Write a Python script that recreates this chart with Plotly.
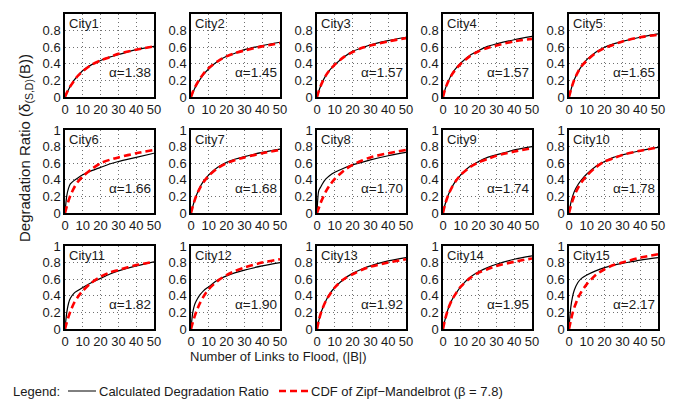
import plotly.graph_objects as go

links = [0, 1, 2, 3, 5, 7, 10, 15, 20, 25, 30, 40, 50]
cities = [f"City{i}" for i in range(1, 16)]
alphas = ["1.38", "1.45", "1.57", "1.57", "1.65", "1.66", "1.68", "1.70",
          "1.74", "1.78", "1.82", "1.90", "1.92", "1.95", "2.17"]

calc_city1 = [0, 0.05, 0.09, 0.13, 0.20, 0.25, 0.32, 0.39, 0.44, 0.48, 0.51, 0.57, 0.61]
calc_city2 = [0, 0.05, 0.10, 0.14, 0.21, 0.27, 0.34, 0.43, 0.49, 0.53, 0.57, 0.62, 0.66]
calc_city3 = [0, 0.07, 0.13, 0.18, 0.26, 0.32, 0.39, 0.48, 0.55, 0.59, 0.63, 0.68, 0.72]
calc_city4 = [0, 0.08, 0.14, 0.19, 0.28, 0.34, 0.41, 0.50, 0.56, 0.61, 0.64, 0.69, 0.73]
calc_city5 = [0, 0.08, 0.15, 0.21, 0.30, 0.37, 0.45, 0.54, 0.60, 0.64, 0.67, 0.72, 0.76]
calc_city6 = [0, 0.21, 0.30, 0.35, 0.39, 0.42, 0.46, 0.51, 0.55, 0.59, 0.62, 0.67, 0.72]
calc_city7 = [0, 0.08, 0.15, 0.21, 0.31, 0.38, 0.46, 0.55, 0.61, 0.65, 0.68, 0.73, 0.77]
calc_city8 = [0, 0.27, 0.31, 0.35, 0.41, 0.45, 0.49, 0.54, 0.58, 0.61, 0.64, 0.69, 0.73]
calc_city9 = [0, 0.09, 0.16, 0.22, 0.31, 0.38, 0.46, 0.56, 0.62, 0.67, 0.70, 0.76, 0.80]
calc_city10 = [0, 0.12, 0.20, 0.26, 0.34, 0.40, 0.47, 0.56, 0.62, 0.67, 0.70, 0.75, 0.79]
calc_city11 = [0, 0.20, 0.31, 0.37, 0.43, 0.46, 0.50, 0.56, 0.61, 0.66, 0.70, 0.76, 0.81]
calc_city12 = [0, 0.20, 0.29, 0.34, 0.41, 0.46, 0.51, 0.59, 0.64, 0.68, 0.71, 0.76, 0.80]
calc_city13 = [0, 0.10, 0.18, 0.24, 0.34, 0.42, 0.50, 0.60, 0.67, 0.72, 0.76, 0.82, 0.86]
calc_city14 = [0, 0.10, 0.18, 0.25, 0.35, 0.42, 0.51, 0.62, 0.69, 0.74, 0.78, 0.84, 0.88]
calc_city15 = [0, 0.26, 0.39, 0.47, 0.56, 0.61, 0.65, 0.70, 0.74, 0.77, 0.79, 0.83, 0.86]

zipf_city1 = [0, 0.05, 0.09, 0.13, 0.19, 0.25, 0.31, 0.39, 0.44, 0.48, 0.52, 0.57, 0.61]
zipf_city2 = [0, 0.06, 0.11, 0.15, 0.22, 0.28, 0.35, 0.43, 0.49, 0.53, 0.56, 0.61, 0.65]
zipf_city3 = [0, 0.07, 0.13, 0.18, 0.26, 0.32, 0.39, 0.48, 0.54, 0.59, 0.62, 0.67, 0.71]
zipf_city4 = [0, 0.08, 0.14, 0.19, 0.27, 0.33, 0.40, 0.49, 0.55, 0.59, 0.62, 0.67, 0.70]
zipf_city5 = [0, 0.08, 0.15, 0.21, 0.30, 0.37, 0.44, 0.53, 0.59, 0.63, 0.67, 0.72, 0.75]
zipf_city6 = [0, 0.08, 0.15, 0.21, 0.30, 0.37, 0.44, 0.53, 0.60, 0.64, 0.67, 0.72, 0.76]
zipf_city7 = [0, 0.08, 0.15, 0.21, 0.30, 0.37, 0.45, 0.54, 0.60, 0.64, 0.67, 0.72, 0.76]
zipf_city8 = [0, 0.06, 0.12, 0.17, 0.26, 0.33, 0.41, 0.51, 0.58, 0.63, 0.67, 0.72, 0.76]
zipf_city9 = [0, 0.09, 0.16, 0.22, 0.31, 0.38, 0.46, 0.55, 0.61, 0.65, 0.69, 0.74, 0.78]
zipf_city10 = [0, 0.08, 0.15, 0.21, 0.30, 0.37, 0.45, 0.55, 0.62, 0.66, 0.70, 0.75, 0.79]
zipf_city11 = [0, 0.08, 0.15, 0.21, 0.31, 0.38, 0.46, 0.56, 0.63, 0.68, 0.71, 0.77, 0.81]
zipf_city12 = [0, 0.08, 0.15, 0.21, 0.31, 0.39, 0.48, 0.58, 0.65, 0.70, 0.74, 0.80, 0.84]
zipf_city13 = [0, 0.10, 0.18, 0.24, 0.34, 0.41, 0.50, 0.60, 0.66, 0.71, 0.75, 0.80, 0.84]
zipf_city14 = [0, 0.10, 0.18, 0.25, 0.35, 0.42, 0.51, 0.61, 0.68, 0.72, 0.76, 0.81, 0.85]
zipf_city15 = [0, 0.10, 0.19, 0.26, 0.37, 0.45, 0.54, 0.65, 0.72, 0.77, 0.80, 0.86, 0.90]

calc = [calc_city1, calc_city2, calc_city3, calc_city4, calc_city5, calc_city6,
        calc_city7, calc_city8, calc_city9, calc_city10, calc_city11, calc_city12,
        calc_city13, calc_city14, calc_city15]
zipf = [zipf_city1, zipf_city2, zipf_city3, zipf_city4, zipf_city5, zipf_city6,
        zipf_city7, zipf_city8, zipf_city9, zipf_city10, zipf_city11, zipf_city12,
        zipf_city13, zipf_city14, zipf_city15]

x_ticks = [0, 10, 20, 30, 40, 50]
y_ticks = [0, 0.2, 0.4, 0.6, 0.8, 1]

# the page body adds an 8px margin; lay out in window pixels and compensate
OFF = 8
W, H = 679 - OFF, 405 - OFF
FONT = "Liberation Sans, Arial, sans-serif"
TXT = "#1a1a1a"


def px(x):
    return (x - OFF) / W


def py(y):
    return 1 - (y - OFF) / H


fig = go.Figure()

col_left = [65, 191, 317, 443, 569]
pw = 89
row_top = [14, 130, 246]
ph = 83

layout = {}
annotations = []
for i in range(15):
    r, c = divmod(i, 5)
    n = i + 1
    xa = "x" if n == 1 else f"x{n}"
    ya = "y" if n == 1 else f"y{n}"
    fig.add_trace(go.Scatter(x=links, y=calc[i], mode="lines", xaxis=xa, yaxis=ya,
                             line=dict(color="black", width=1.2, shape="spline", smoothing=0.8),
                             showlegend=False, hoverinfo="skip"))
    fig.add_trace(go.Scatter(x=links, y=zipf[i], mode="lines", xaxis=xa, yaxis=ya,
                             line=dict(color="#ff0000", width=2.6, dash="7px,4px",
                                       shape="spline", smoothing=0.8),
                             showlegend=False, hoverinfo="skip"))
    common = dict(showline=True, linecolor="black", linewidth=1.5, mirror=True,
                  showgrid=True, gridcolor="#707070", griddash="1px,3px", gridwidth=1,
                  zeroline=False, ticks="", automargin=False,
                  tickfont=dict(size=13, color=TXT, family=FONT))
    layout["xaxis" if n == 1 else f"xaxis{n}"] = dict(
        domain=[px(col_left[c]), px(col_left[c] + pw)], range=[0, 50],
        tickvals=x_ticks, anchor=ya, **common)
    layout["yaxis" if n == 1 else f"yaxis{n}"] = dict(
        domain=[py(row_top[r] + ph), py(row_top[r])], range=[0, 1],
        tickvals=y_ticks, anchor=xa, **common)
    annotations.append(dict(text=cities[i], xref=f"{xa} domain", yref=f"{ya} domain",
                            x=0.02, y=1.0, xanchor="left", yanchor="top", showarrow=False,
                            font=dict(size=13, color=TXT, family=FONT)))
    annotations.append(dict(text=f"α={alphas[i]}", xref=f"{xa} domain", yref=f"{ya} domain",
                            x=0.99, y=0.29, xanchor="right", yanchor="middle", showarrow=False,
                            font=dict(size=13.5, color=TXT, family=FONT)))

# axis titles
annotations.append(dict(text="Number of Links to Flood, (|B|)", xref="paper", yref="paper",
                        x=px(278), y=py(356), xanchor="center", yanchor="middle",
                        showarrow=False, font=dict(size=13, color=TXT, family=FONT)))
annotations.append(dict(text="Degradation Ratio (δ<sub>(S,D)</sub>(B))", xref="paper", yref="paper",
                        x=px(26), y=py(148), xanchor="center", yanchor="middle", textangle=-90,
                        showarrow=False, font=dict(size=15, color=TXT, family=FONT)))
# legend
LY = 391
annotations.append(dict(text="Legend:", xref="paper", yref="paper", x=px(11), y=py(LY),
                        xanchor="left", yanchor="middle", showarrow=False,
                        font=dict(size=13, color=TXT, family=FONT)))
annotations.append(dict(text="Calculated Degradation Ratio", xref="paper", yref="paper",
                        x=px(97), y=py(LY), xanchor="left", yanchor="middle", showarrow=False,
                        font=dict(size=13, color=TXT, family=FONT)))
annotations.append(dict(text="CDF of Zipf−Mandelbrot (β = 7.8)", xref="paper", yref="paper",
                        x=px(309), y=py(LY), xanchor="left", yanchor="middle", showarrow=False,
                        font=dict(size=13, color=TXT, family=FONT)))
shapes = [
    dict(type="line", xref="paper", yref="paper", x0=px(68), x1=px(96),
         y0=py(LY), y1=py(LY), line=dict(color="black", width=1)),
    dict(type="line", xref="paper", yref="paper", x0=px(279), x1=px(309),
         y0=py(LY), y1=py(LY), line=dict(color="#ff0000", width=2.6, dash="7px,4px")),
]

fig.update_layout(width=W, height=H, margin=dict(l=0, r=0, t=0, b=0),
                  paper_bgcolor="white", plot_bgcolor="white",
                  annotations=annotations, shapes=shapes,
                  font=dict(family=FONT, color=TXT), **layout)
fig.write_html("out.html")
